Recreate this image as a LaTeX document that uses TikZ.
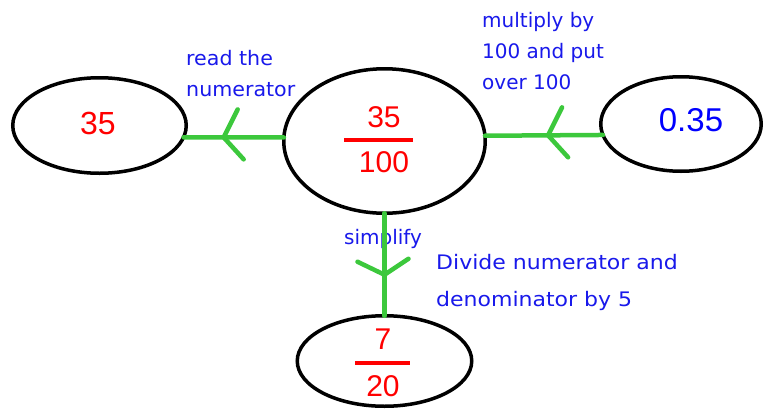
\documentclass[tikz,border=0pt]{standalone}
\usepackage{fontspec}
\setmainfont{DejaVu Sans}
\newfontfamily\numfont{Liberation Sans}
\usetikzlibrary{shapes.geometric,calc}
\definecolor{lgreen}{RGB}{60,200,60}
\definecolor{lblue}{RGB}{25,25,235}
\definecolor{nred}{RGB}{255,0,0}
\definecolor{nblue}{RGB}{0,0,255}
\begin{document}
\begin{tikzpicture}[x=1pt,y=-1pt,
  oval/.style={draw=black, line width=3.5pt, ellipse, inner sep=0pt, outer sep=0pt},
  bignum/.style={inner sep=0pt, font=\numfont\fontsize{32}{38}\selectfont},
  fracnum/.style={inner sep=0pt, text=nred, font=\numfont\fontsize{30}{36}\selectfont},
  lbl/.style={inner sep=0pt, text=lblue, font=\fontsize{20}{31}\selectfont, align=left},
  conn/.style={draw=lgreen, line width=4.5pt, line cap=round, line join=round},
  fbar/.style={draw=nred, line width=4pt}]
\useasboundingbox[fill=white] (0,0) rectangle (766,410);

% ovals
\node[oval, minimum width=173.5pt, minimum height=95.5pt] (L) at (99.5,125.5) {};
\node[oval, minimum width=201.5pt, minimum height=144.5pt] (C) at (384.5,141) {};
\node[oval, minimum width=160.5pt, minimum height=94.5pt] (R) at (681,124) {};
\node[oval, minimum width=174.5pt, minimum height=90.5pt] (B) at (384.5,361) {};

% numbers
\node[bignum, text=nred] (Lt) at (98,123) {35};
\node[bignum, text=nblue, font=\numfont\fontsize{33}{38}\selectfont] (Rt) at (691,120) {0.35};
\node[fracnum] (Cn) at (384,117) {35};
\node[fracnum] (Cd) at (384,162) {100};
\draw[fbar] (344,140) -- (413,140);
\node[fracnum] (Bn) at (383,339) {7};
\node[fracnum] (Bd) at (383,386) {20};
\draw[fbar] (355,363) -- (410,363);

% labels
\node[lbl, anchor=west] (rd) at (186,74.5) {\scalebox{1.03}[1]{\begin{tabular}{@{}l@{}}read the\\numerator\end{tabular}}};
\node[lbl, anchor=west] (mu) at (482,51) {multiply by\\100 and put\\over 100};
\node[lbl] (si) at (383,239) {simplify};
\node[lbl, anchor=west] (dv) at (436,281.5) {\scalebox{1.1}[1]{\begin{tabular}{@{}l@{}}Divide numerator and\\[6pt]denominator by 5\end{tabular}}};

% connectors
\draw[conn] (C.178) -- (L.352);
\draw[conn] (R.188.8) -- (C.3.4);
\draw[conn] (C.south) -- (B.north);

% chevrons
\coordinate (tL) at ($(C.178)!0.6!(L.352)$);
\coordinate (tR) at ($(R.188.8)!0.465!(C.3.4)$);
\coordinate (tB) at ($(C.south)!0.6!(B.north)$);
\draw[conn] ($(tL)+(14,-28)$) -- (tL) -- ($(tL)+(20,22)$);
\draw[conn] ($(tR)+(14,-28)$) -- (tR) -- ($(tR)+(20,22)$);
\draw[conn] ($(tB)+(-27,-13)$) -- (tB) -- ($(tB)+(24,-16)$);
\end{tikzpicture}
\end{document}
